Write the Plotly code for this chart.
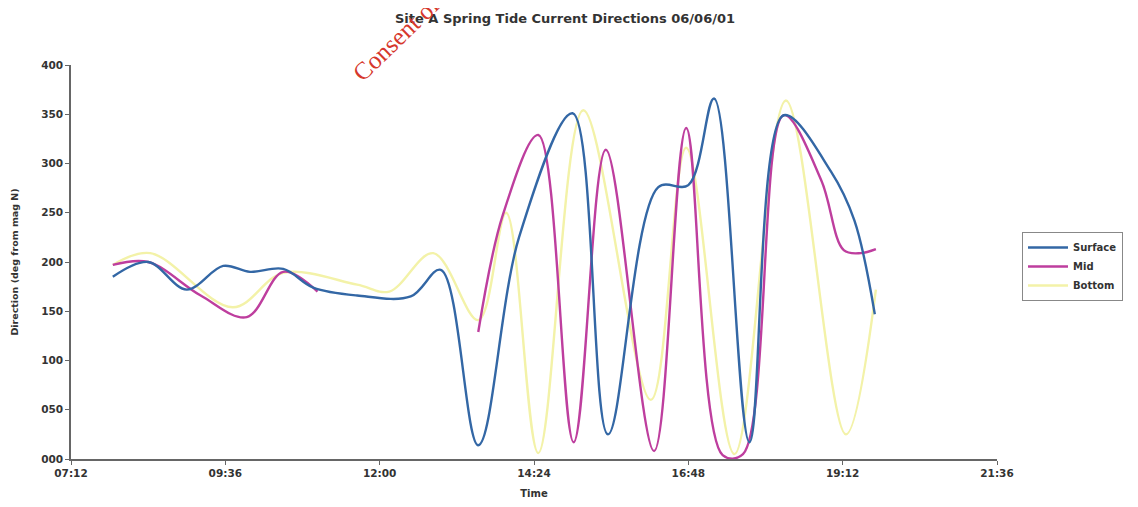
import plotly.graph_objects as go

DAY = "2001-06-06 "

surface_times = ["07:51", "08:24", "09:00", "09:34", "09:59", "10:30", "10:58", "11:39", "12:29", "12:57",
                 "13:32", "14:10", "15:00", "15:33", "16:20", "16:48", "17:12", "17:45", "18:17", "19:01",
                 "19:23", "19:42"]
surface_dir = [185, 200, 172, 196, 190, 193, 174, 166, 165, 192,
               14, 225, 351, 25, 276, 278, 366, 17, 349, 292,
               242, 147]

mid_times = ["07:51", "08:24", "09:13", "09:56", "10:30", "11:02", "12:00",
             "13:32", "13:55", "14:28", "15:01", "15:31", "16:16", "16:46", "17:20", "17:39",
             "18:17", "18:52", "19:13", "19:29", "19:43"]
mid_dir = [197, 200, 166, 144, 190, 170, None,
           129, 248, 329, 17, 314, 8, 336, 4, 5,
           349, 283, 212, 209, 213]

bottom_times = ["07:51", "08:26", "09:43", "10:30", "11:39", "12:09", "12:50", "13:32", "13:58", "14:28",
                "15:10", "16:13", "16:46", "17:31", "18:19", "19:15", "19:43"]
bottom_dir = [197, 209, 154, 189, 177, 170, 209, 141, 250, 6,
              354, 60, 316, 5, 364, 25, 172]

series_names = ["Surface", "Mid", "Bottom"]
series_colors = ["#3367A5", "#BE3E9E", "#F3F2A8"]

x_range = ["07:12", "21:36"]
y_ticks = [0, 50, 100, 150, 200, 250, 300, 350, 400]

FONT = "DejaVu Sans, Arial, sans-serif"
TXT = "#333333"

# page has an 8px body margin, so the figure is sized to fit inside the window
W, H = 1122, 491
L, T = 63, 57
PW, PH = 926, 394

fig = go.Figure()
for name, times, vals, col in [
    (series_names[2], bottom_times, bottom_dir, series_colors[2]),
    (series_names[1], mid_times, mid_dir, series_colors[1]),
    (series_names[0], surface_times, surface_dir, series_colors[0]),
]:
    fig.add_trace(go.Scatter(
        x=[DAY + t for t in times], y=vals, name=name, mode="lines",
        line=dict(color=col, width=2.4, shape="spline", smoothing=1.0),
        connectgaps=False,
    ))

fig.update_layout(
    width=W, height=H,
    paper_bgcolor="white", plot_bgcolor="white",
    margin=dict(l=L, r=W - L - PW, t=T, b=H - T - PH, autoexpand=False),
    font=dict(family=FONT, size=10, color=TXT),
    title=dict(text="Site A Spring Tide Current Directions 06/06/01",
               x=557 / W, xref="container", xanchor="center",
               y=(H - 10) / H, yref="container", yanchor="middle",
               font=dict(family=FONT, size=13, color=TXT, weight="bold")),
    showlegend=True,
    legend=dict(x=(1014 - L) / PW, y=(T + PH - 224) / PH, xanchor="left", yanchor="top",
                traceorder="reversed",
                bgcolor="white", bordercolor="#888888", borderwidth=1,
                font=dict(family=FONT, size=10, color=TXT, weight="bold"),
                tracegroupgap=0, itemwidth=40),
)

fig.update_xaxes(
    type="date", automargin=False,
    range=[DAY + x_range[0], DAY + x_range[1]],
    tick0=DAY + x_range[0], dtick=2.4 * 3600 * 1000,
    tickformat="%H:%M",
    showgrid=False, zeroline=False,
    showline=True, linecolor="#666666", linewidth=1.5,
    ticks="outside", ticklen=4, tickcolor="#666666",
    tickfont=dict(family=FONT, size=10.5, color=TXT, weight="bold"),
    title=dict(text="Time", standoff=19,
               font=dict(family=FONT, size=10, color=TXT, weight="bold")),
)

fig.update_yaxes(
    automargin=False,
    range=[0, 400], tickvals=y_ticks, tickformat="03d",
    showgrid=False, zeroline=False,
    showline=True, linecolor="#666666", linewidth=1.5,
    ticks="outside", ticklen=4, tickcolor="#666666",
    tickfont=dict(family=FONT, size=10.5, color=TXT, weight="bold"),
    title=dict(text="Direction (deg from mag N)", standoff=21,
               font=dict(family=FONT, size=9.5, color=TXT, weight="bold")),
)

fig.add_annotation(
    text="Consent of", xref="paper", yref="paper",
    x=(388 - L) / PW, y=(T + PH - 30) / PH,
    xanchor="center", yanchor="middle",
    showarrow=False, textangle=-44,
    font=dict(family="Liberation Serif, Times New Roman, serif", size=25, color="#D6372C"),
)

fig.write_html("out.html")
